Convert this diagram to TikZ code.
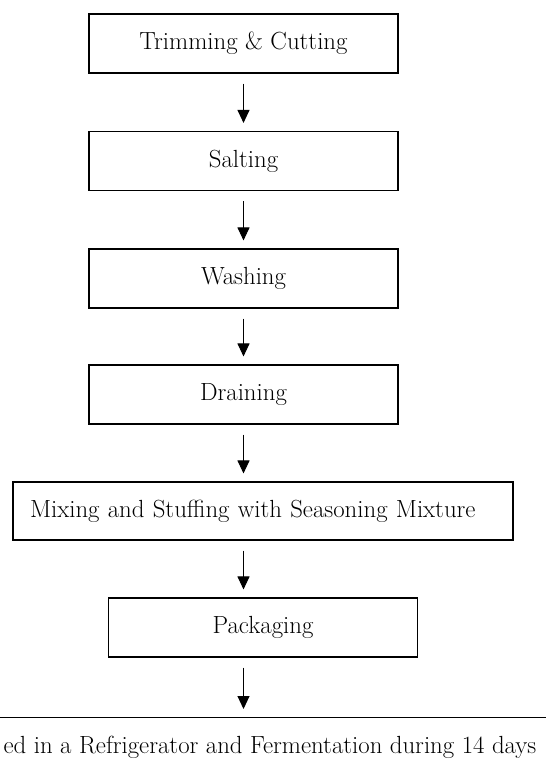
\documentclass[tikz,border=0pt]{standalone}
\usepackage{fontspec}
\usetikzlibrary{arrows.meta}
\begin{document}
\begin{tikzpicture}[x=1pt, y=-1pt, font=\fontsize{24.8}{29}\selectfont,
		stepbox/.style={draw, line width=1.1pt, minimum width=309pt, minimum height=59pt, inner sep=0pt},
		flow/.style={-{Triangle[width=12pt, length=13pt]}, line width=1pt, shorten <=10pt, shorten >=8pt}]
		\useasboundingbox (0, 0) rectangle (546, 771);
		\node[stepbox] (trim) at (243.5, 43.5) {Trimming \& Cutting};
		\node[stepbox] (salt) at (243.5, 161) {Salting};
		\node[stepbox] (wash) at (243.5, 278.5) {Washing};
		\node[stepbox] (drain) at (243.5, 394.5) {Draining};
		\node[stepbox, minimum width=500pt, minimum height=58pt, text width=466pt, align=left, inner xsep=17pt] (mix) at (263, 511) {Mixing and Stuffing with Seasoning Mixture};
		\node[stepbox] (pack) at (263, 627.5) {Packaging};
		\node[stepbox, anchor=north, minimum width=640pt] (store) at (270, 717) {ed in a Refrigerator and Fermentation during 14 days};
		\foreach \a/\b in {trim/salt, salt/wash, wash/drain, drain/mix, mix/pack, pack/store}
			\draw[flow] (\a.south -| trim.south) -- (\b.north -| trim.south);
\end{tikzpicture}
\end{document}
